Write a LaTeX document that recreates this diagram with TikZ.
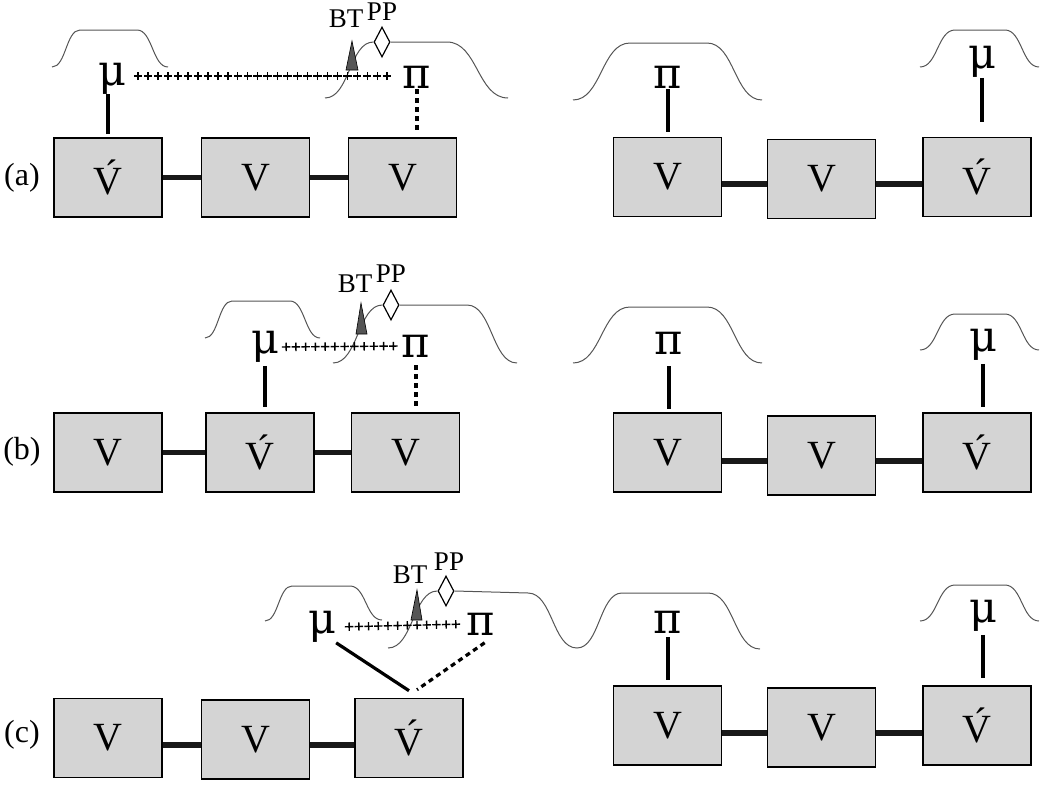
\documentclass[tikz,border=0pt]{standalone}
\usepackage{fontspec}
\setmainfont{Liberation Serif}
\newfontfamily\grk{DejaVu Serif}
\usetikzlibrary{shapes.geometric,decorations.markings}
\definecolor{boxgray}{RGB}{212,212,212}
\definecolor{curvegray}{RGB}{85,85,85}
\definecolor{btgray}{RGB}{85,85,85}
\begin{document}
\begin{tikzpicture}[x=1pt,y=-1pt,
  vbox/.style={draw=black,line width=1.6pt,fill=boxgray,minimum width=108pt,minimum height=79pt,inner sep=0pt,font=\fontsize{40}{40}\selectfont},
  greek/.style={inner sep=0pt,font=\fontsize{43}{43}\selectfont\grk},
  tag/.style={inner sep=0pt,font=\fontsize{32}{32}\selectfont},
  small/.style={inner sep=0pt,font=\fontsize{27}{27}\selectfont},
  link/.style={line width=5.5pt,black!90},
  conn/.style={line width=3.2pt},
  dconn/.style={line width=3.2pt,dash pattern=on 5pt off 4pt},
  bump/.style={line width=1pt,curvegray},
  ppd/.style={diamond,draw=black,fill=white,line width=1.2pt,minimum width=16pt,minimum height=30pt,inner sep=0pt},
  btri/.style={draw=black,line width=0.6pt,fill=btgray},
  plusmark/.style={decoration={markings,mark=between positions #1 with {\draw[line width=1.4pt] (-4.2pt,0)--(4.2pt,0) (0,-4.2pt)--(0,4.2pt);}},decorate},
]
\useasboundingbox (0,0) rectangle (1050,787);

% ================= (a) =================
\node[tag] (la) at (22,178) {(a)};
\node[vbox] (a1) at (108,177.5) {\'V};
\node[vbox] (a2) at (255.5,177.5) {V};
\node[vbox] (a3) at (402.5,177.5) {V};
\node[vbox] (a4) at (667.5,177) {V};
\node[vbox] (a5) at (821.5,179) {V};
\node[vbox] (a6) at (977,177) {\'V};
\node[greek] (mua) at (112,78.5) {μ};
\node[greek] (pia) at (417,77) {π};
\node[greek] (pra) at (668,77) {π};
\node[greek] (mura) at (982,62) {μ};

\draw[bump] (52,67) .. controls (66,67) and (66,30) .. (80,30) -- (137,30) .. controls (152.5,30) and (152.5,67) .. (168,67);
\node[ppd] (ppa) at (382,42) {};
\draw[bump] (325,98) .. controls (349.5,98) and (349.5,42) .. (ppa.west);
\draw[bump] (ppa.east) -- (447,42) .. controls (477.5,42) and (477.5,98) .. (508,98);
\draw[bump] (573,100) .. controls (601.5,100) and (601.5,43) .. (630,43) -- (707,43) .. controls (734.5,43) and (734.5,100) .. (762,100);
\draw[bump] (920,67) .. controls (937.5,67) and (937.5,30) .. (955,30) -- (1005,30) .. controls (1022,30) and (1022,67) .. (1039,67);
\draw[btri] (352,41) -- (358,70) -- (346,70) -- cycle;
\node[small] (bta) at (346,18.5) {BT};
\node[small] (ppla) at (382,11.7) {PP};

\path[plusmark={12pt and -14pt step 9.96pt}] ([yshift=2.5pt]mua.east) -- ([yshift=1pt]pia.west);
\draw[link] (a1) -- (a2);
\draw[link] (a2) -- (a3);
\draw[link] ([yshift=-7pt]a4.east) -- ([yshift=-5pt]a5.west);
\draw[link] ([yshift=-5pt]a5.east) -- ([yshift=-7pt]a6.west);
\draw[conn,shorten <=3pt] (a1.north) -- (a1.north |- mua.south);
\draw[dconn,shorten <=1pt,shorten >=5pt] (pia) -- (pia |- a3.north);
\draw[conn,shorten <=1pt,shorten >=5pt] (pra) -- (pra |- a4.north);
\draw[conn,shorten >=15pt] (mura) -- (mura |- a6.north);

% ================= (b) =================
\node[tag] (lb) at (22,452) {(b)};
\node[vbox] (b1) at (108,452.5) {V};
\node[vbox] (b2) at (260,452.5) {\'V};
\node[vbox] (b3) at (405.5,452.5) {V};
\node[vbox] (b4) at (667.5,452.5) {V};
\node[vbox] (b5) at (821.5,455.5) {V};
\node[vbox] (b6) at (977,452.5) {\'V};
\node[greek] (mub) at (265,347) {μ};
\node[greek] (pib) at (416,346) {π};
\node[greek] (prb) at (669,343) {π};
\node[greek] (murb) at (983,345) {μ};

\draw[bump] (205,338) .. controls (218.5,338) and (218.5,301) .. (232,301) -- (290,301) .. controls (305,301) and (305,338) .. (320,338);
\node[ppd] (ppb) at (391,305) {};
\draw[bump] (333,363) .. controls (358,363) and (358,305) .. (ppb.west);
\draw[bump] (ppb.east) -- (467,305) .. controls (492,305) and (492,363) .. (517,363);
\draw[bump] (573,363) .. controls (601.5,363) and (601.5,307) .. (630,307) -- (707,307) .. controls (734.5,307) and (734.5,363) .. (762,363);
\draw[bump] (920,350) .. controls (937.5,350) and (937.5,314) .. (955,314) -- (1005,314) .. controls (1022,314) and (1022,350) .. (1039,350);
\draw[btri] (361,303) -- (367,334) -- (356,334) -- cycle;
\node[small] (btb) at (355,284) {BT};
\node[small] (pplb) at (391,274) {PP};

\path[plusmark={7pt and -7pt step 9.75pt}] (mub.east) -- (pib.west);
\draw[link] (b1) -- (b2);
\draw[link] (b2) -- (b3);
\draw[link] ([yshift=-8.5pt]b4.east) -- ([yshift=-5.5pt]b5.west);
\draw[link] ([yshift=-5.5pt]b5.east) -- ([yshift=-8.5pt]b6.west);
\draw[conn,shorten <=3pt,shorten >=5pt] (mub) -- (mub |- b2.north);
\draw[dconn,shorten <=8pt,shorten >=6pt] (pib) -- (pib |- b3.north);
\draw[conn,shorten <=12pt,shorten >=3pt] (prb) -- (prb |- b4.north);
\draw[conn,shorten <=3pt,shorten >=5pt] (murb) -- (murb |- b6.north);

% ================= (c) =================
\node[tag] (lc) at (22,735) {(c)};
\node[vbox] (c1) at (108,738) {V};
\node[vbox] (c2) at (255.5,739.5) {V};
\node[vbox] (c3) at (409,738) {\'V};
\node[vbox] (c4) at (667.5,725.5) {V};
\node[vbox] (c5) at (821.5,727.5) {V};
\node[vbox] (c6) at (977,725.5) {\'V};
\node[greek] (muc) at (322,627) {μ};
\node[greek] (pic) at (481,624) {π};
\node[greek] (prc) at (668,622) {π};
\node[greek] (murc) at (983,616) {μ};

\draw[bump] (265,621) .. controls (278.5,621) and (278.5,586) .. (292,586) -- (350,586) .. controls (366,586) and (366,620) .. (382,620);
\node[ppd] (ppc) at (446,591) {};
\draw[bump] (388,648) .. controls (413,648) and (413,591) .. (ppc.west);
\draw[bump] (ppc.east) -- (528,593) .. controls (552.5,593) and (552.5,648) .. (577,648) .. controls (599.5,648) and (599.5,593) .. (622,593) -- (708,593) .. controls (734,593) and (734,649) .. (760,649);
\draw[bump] (920,621) .. controls (937.5,621) and (937.5,585) .. (955,585) -- (1005,585) .. controls (1022,585) and (1022,621) .. (1039,621);
\draw[btri] (417,590) -- (422,620) -- (411,620) -- cycle;
\node[small] (btc) at (410,575) {BT};
\node[small] (pplc) at (449,562) {PP};

\path[plusmark={13pt and -10pt step 9.7pt}] (muc.east) -- (pic.west);
\draw[link] ([yshift=-7pt]c1.east) -- ([yshift=-5.5pt]c2.west);
\draw[link] ([yshift=-5.5pt]c2.east) -- ([yshift=-7pt]c3.west);
\draw[link] ([yshift=-7.5pt]c4.east) -- ([yshift=-5.5pt]c5.west);
\draw[link] ([yshift=-5.5pt]c5.east) -- ([yshift=-7.5pt]c6.west);
\draw[conn] (muc.south east) -- ([yshift=7pt]c3.north);
\draw[dconn,shorten <=13pt] (pic.south east) -- ([xshift=8pt,yshift=8pt]c3.north);
\draw[conn,shorten <=4pt,shorten >=5pt] (prc) -- (prc |- c4.north);
\draw[conn,shorten <=3pt,shorten >=7pt] (murc) -- (murc |- c6.north);
\end{tikzpicture}
\end{document}
